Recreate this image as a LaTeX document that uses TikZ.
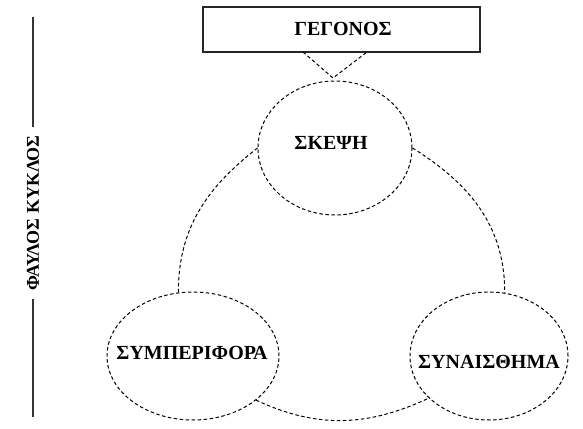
\documentclass[tikz,border=0pt]{standalone}
\usepackage{fontspec}
\setmainfont{Liberation Serif}
\usetikzlibrary{shapes.geometric}
\begin{document}
\begin{tikzpicture}[x=1pt,y=1pt,
  oval/.style={ellipse,draw=black,line width=1pt,dash pattern=on 3.5pt off 2.5pt,inner sep=0pt},
  lbl/.style={font=\fontsize{20}{22}\selectfont\bfseries,inner sep=0pt},
  conn/.style={draw=black,line width=1pt,dash pattern=on 3.5pt off 2.5pt},
  boxstyle/.style={draw=black!85,line width=1.4pt,minimum width=277pt,minimum height=45pt,inner sep=0pt}
]
\useasboundingbox (0,0) rectangle (583,428);
% event box
\node[boxstyle] (ev) at (341.5,398.5) {};
\node[lbl] (evt) at (343,399) {ΓΕΓΟΝΟΣ};
% V marker
\coordinate (v1) at (303,376);
\coordinate (v2) at (333,350);
\coordinate (v3) at (367,376);
\draw[conn] (v1) -- (v2) -- (v3);
% ellipses
\node[oval,minimum width=154pt,minimum height=134pt] (thk) at (335,280) {};
\node[lbl] (thkt) at (331,285) {ΣΚΕΨΗ};
\node[oval,minimum width=172pt,minimum height=128pt] (beh) at (193,72) {};
\node[lbl] (beht) at (192,75) {ΣΥΜΠΕΡΙΦΟΡΑ};
\node[oval,minimum width=158pt,minimum height=128pt] (emo) at (489,72) {};
\node[lbl] (emot) at (489,66) {ΣΥΝΑΙΣΘΗΜΑ};
% cycle arcs
\draw[conn] (thk.west) to[out=218,in=90] (beh.103);
\draw[conn] (thk.east) to[out=-32,in=90] (emo.76);
\draw[conn] (beh.-35) to[out=-25,in=205] (emo.-145);
% vertical label
\node[lbl,font=\fontsize{18}{20}\selectfont\bfseries,rotate=90,inner xsep=8pt] (fc) at (33,215) {ΦΑΥΛΟΣ ΚΥΚΛΟΣ};
\coordinate (ltop) at (33,411);
\coordinate (lbot) at (33,11);
\draw[black!80,line width=1.2pt] (fc.east) -- (ltop);
\draw[black!80,line width=1.2pt] (fc.west) -- (lbot);
\end{tikzpicture}
\end{document}
